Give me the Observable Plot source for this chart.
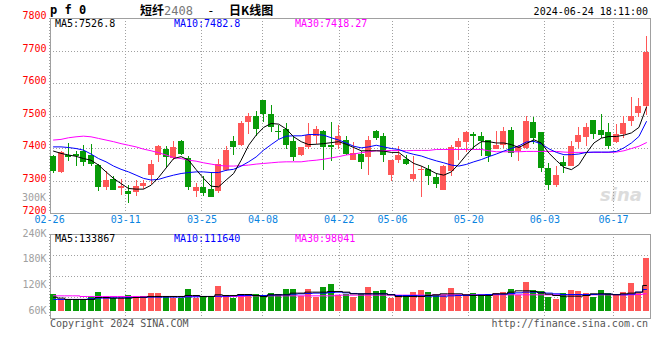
<!DOCTYPE html>
<html><head><meta charset="utf-8">
<script src="https://cdn.jsdelivr.net/npm/d3@7"></script>
<script src="https://cdn.jsdelivr.net/npm/@observablehq/plot@0.6"></script>
<style>
body{margin:0;background:#fff;}
#wrap{position:relative;width:660px;height:360px;overflow:hidden;font-family:"DejaVu Sans Mono","Liberation Mono",monospace;font-size:10px;color:#000;}
#wrap svg{position:absolute;left:0;top:0;}
.t{position:absolute;white-space:nowrap;line-height:10px;}
</style></head><body><div id="wrap"></div>
<script>
const dates = ["02-26","02-27","02-28","02-29","03-01","03-04","03-05","03-06","03-07","03-08","03-11","03-12","03-13","03-14","03-15","03-18","03-19","03-20","03-21","03-22","03-25","03-26","03-27","03-28","03-29","04-01","04-02","04-03","04-08","04-09","04-10","04-11","04-12","04-15","04-16","04-17","04-18","04-19","04-22","04-23","04-24","04-25","04-26","04-29","04-30","05-06","05-07","05-08","05-09","05-10","05-13","05-14","05-15","05-16","05-17","05-20","05-21","05-22","05-23","05-24","05-27","05-28","05-29","05-30","05-31","06-03","06-04","06-05","06-06","06-07","06-11","06-12","06-13","06-14","06-17","06-18","06-19","06-20","06-21","06-24"];
const open = [7374,7325,7380,7383,7392,7380,7348,7279,7305,7276,7269,7264,7282,7318,7377,7398,7369,7423,7369,7267,7280,7275,7267,7333,7421,7408,7479,7500,7549,7506,7453,7457,7421,7377,7403,7436,7453,7410,7408,7426,7364,7383,7371,7451,7438,7318,7364,7367,7306,7332,7336,7311,7270,7328,7403,7417,7444,7438,7426,7397,7408,7456,7390,7400,7480,7450,7337,7287,7357,7345,7417,7434,7485,7456,7448,7417,7443,7482,7507,7528];
const high = [7380,7390,7415,7392,7410,7413,7352,7330,7313,7305,7287,7301,7303,7362,7410,7407,7421,7424,7374,7292,7315,7326,7367,7405,7438,7482,7508,7513,7549,7533,7472,7477,7436,7403,7477,7467,7454,7479,7470,7438,7417,7392,7436,7454,7446,7364,7407,7380,7374,7344,7349,7323,7349,7410,7431,7451,7449,7449,7426,7451,7465,7465,7410,7497,7494,7450,7355,7345,7376,7422,7466,7478,7485,7505,7478,7473,7499,7558,7555,7745];
const low = [7323,7323,7359,7346,7344,7346,7267,7272,7270,7256,7231,7251,7274,7290,7356,7342,7364,7380,7270,7248,7253,7248,7262,7328,7377,7405,7444,7436,7479,7449,7429,7398,7359,7376,7397,7413,7333,7359,7397,7380,7364,7336,7318,7426,7356,7297,7354,7347,7300,7248,7287,7277,7270,7315,7364,7387,7398,7374,7356,7397,7400,7371,7359,7397,7412,7325,7270,7281,7323,7345,7400,7405,7427,7432,7398,7415,7432,7468,7494,7502];
const close = [7328,7387,7371,7376,7357,7352,7279,7303,7272,7284,7260,7284,7293,7352,7407,7372,7403,7382,7279,7279,7262,7248,7352,7395,7403,7477,7497,7460,7505,7464,7448,7408,7371,7402,7439,7457,7403,7402,7438,7383,7385,7356,7426,7431,7380,7362,7380,7352,7320,7335,7313,7289,7346,7403,7421,7448,7436,7421,7376,7410,7453,7385,7407,7484,7432,7340,7287,7316,7345,7405,7440,7466,7443,7441,7407,7443,7478,7499,7528,7695];
const ma5 = [7392,7385,7380,7376,7369,7364,7349,7328,7308,7292,7277,7275,7275,7287,7311,7340,7369,7375,7364,7335,7308,7284,7282,7303,7323,7364,7410,7441,7465,7477,7475,7460,7436,7421,7412,7413,7415,7418,7421,7413,7403,7393,7393,7393,7392,7388,7388,7370,7354,7346,7335,7323,7318,7328,7352,7380,7405,7421,7421,7417,7417,7412,7403,7415,7427,7417,7386,7363,7342,7335,7350,7386,7417,7432,7437,7437,7441,7448,7465,7527];
const ma10 = [7405,7405,7403,7400,7395,7383,7369,7359,7346,7336,7328,7318,7308,7303,7305,7312,7318,7323,7326,7328,7328,7326,7326,7333,7336,7346,7359,7374,7395,7412,7428,7438,7439,7439,7443,7443,7441,7433,7426,7417,7407,7402,7405,7410,7405,7400,7397,7388,7382,7377,7369,7362,7356,7349,7346,7351,7359,7366,7375,7383,7392,7400,7408,7420,7422,7414,7399,7388,7381,7381,7383,7388,7389,7389,7389,7391,7402,7417,7437,7483];
const ma30 = [7426,7428,7433,7436,7438,7436,7431,7426,7421,7415,7410,7405,7398,7393,7387,7380,7372,7369,7364,7361,7356,7352,7348,7346,7346,7347,7349,7352,7354,7356,7358,7359,7359,7359,7362,7364,7367,7371,7375,7380,7383,7387,7390,7393,7393,7394,7394,7393,7394,7394,7394,7397,7397,7397,7397,7397,7397,7397,7393,7390,7390,7390,7390,7391,7391,7391,7391,7391,7389,7388,7388,7388,7388,7388,7388,7389,7393,7400,7407,7418];
const volume = [99000,88100,88100,88100,88100,93500,104400,91200,91200,91200,97400,95100,91200,102100,102100,95100,91200,91200,111400,91200,95100,95100,118500,95100,91200,97400,97400,99700,95100,102100,100500,111400,111400,95100,111400,93500,116100,123100,97400,99700,93500,99700,116100,106800,109100,91200,95800,93500,104400,109100,104400,97400,97400,113800,97400,97400,102100,95800,95800,101300,104400,111400,97400,127800,109100,106800,93500,88100,101300,109100,106800,101300,93500,109100,101300,97400,104400,125500,101300,184700];
const volMa5 = [93500,91200,88100,88100,88100,88100,92700,92700,91200,91200,91200,92700,93500,95100,95100,95100,95100,95100,97400,97400,95100,95100,99000,97400,97400,99700,99700,97400,95100,99000,99000,99000,102900,102900,105200,105200,105200,106800,106800,105200,101300,101300,101300,101300,101300,99000,95100,95100,95100,95100,97400,99000,101300,101300,101300,99000,97400,97400,97400,101300,101300,105200,108300,108300,106800,103600,100500,97400,95800,95800,95800,97400,101300,101300,100500,99000,101300,102900,105200,120800];
const volMa10 = [88100,88100,88100,88100,88100,89600,91200,91200,92000,92000,92700,92700,92700,93500,93500,93500,93500,93500,94300,94300,95100,95100,95800,95800,96600,97400,97400,97400,97400,98200,99000,99000,100500,101300,102100,102900,102900,104400,105200,103600,102100,101300,101300,101300,101300,99700,97400,97400,97400,96600,95800,95800,95800,96600,97400,97400,98200,99000,99700,100500,100500,102100,103600,105200,105200,104400,102900,101300,99700,99700,99700,99700,99700,100500,100500,99700,99000,100500,105200,111400];
const volMa30 = [96600,96600,96600,96600,95100,95100,95100,95100,95100,95100,95100,95100,95100,95100,95100,95100,95100,95100,95100,95100,95100,95100,95100,95100,95100,95100,96600,96600,96600,96600,96600,96600,96600,96600,96600,96600,96600,96600,98200,98200,98200,98200,98200,98200,98200,98200,98200,98200,98200,98200,98200,99000,99000,99000,99000,99000,99000,99000,99000,99000,99000,99000,99000,99000,99000,99000,99000,99000,99000,99000,99000,99000,99000,99000,99000,99000,99000,99000,99700,101300];
const tickDates = ["02-26","03-11","03-25","04-08","04-22","05-06","05-20","06-03","06-17"];
const priceTicks = [7200,7300,7400,7500,7600,7700,7800];
const volTicks = [60000,120000,180000,240000];
const volTickLabels = ["60K","120K","180K","240K"];
const maLabels = ["MA5:7526.8","MA10:7482.8","MA30:7418.27"];
const volMaLabels = ["MA5:133867","MA10:111640","MA30:98041"];

const RED = "#ff5757", GREEN = "#089b08";
const FONT = "DejaVu Sans Mono, Liberation Mono, monospace";
const rows = dates.map((d, i) => ({i, d, o: open[i], h: high[i], l: low[i], c: close[i],
  m5: ma5[i], m10: ma10[i], m30: ma30[i], v: volume[i], v5: volMa5[i], v10: volMa10[i], v30: volMa30[i],
  col: close[i] >= open[i] ? RED : GREEN}));
const ticks = tickDates.map(d => ({d, i: dates.indexOf(d)}));

const W = 660, H = 360;
const base = {width: W, height: H, marginLeft: 50, marginRight: 10,
  style: {background: "transparent", fontFamily: FONT, fontSize: "10px", overflow: "visible"},
  color: {type: "identity"}};
const gridX = {domain: [0.118, 78.86], axis: null};
const candleX = {domain: [-0.4, 79.54], axis: null};
const dotted = {stroke: "#a0a0a0", strokeDasharray: "1,2", shapeRendering: "crispEdges"};

const mainGrid = Plot.plot({...base, marginTop: 18, marginBottom: H - 213,
  x: gridX, y: {domain: [7200, 7800], axis: null},
  marks: [
    Plot.ruleY(priceTicks.slice(1, -1), dotted),
    Plot.ruleX(ticks, {x: "i", ...dotted}),
    Plot.frame({stroke: "#a0a0a0", shapeRendering: "crispEdges"}),
    Plot.text(priceTicks, {y: d => d, text: d => String(d), frameAnchor: "left", dx: -4, dy: -2.5,
      textAnchor: "end", fill: "#ff0000", fontSize: 10, fontFamily: FONT}),
    Plot.text(ticks, {x: "i", text: "d", frameAnchor: "bottom", dy: 9.5, fill: "#0a84e0",
      fontSize: 10, fontFamily: FONT})
  ]});

const mainData = Plot.plot({...base, marginTop: 18, marginBottom: H - 213,
  x: candleX, y: {domain: [7200, 7800], axis: null},
  marks: [
    Plot.ruleX(rows, {x: "i", y1: "l", y2: "h", stroke: "col", shapeRendering: "crispEdges"}),
    Plot.rect(rows, {x1: d => d.i - 0.4, x2: d => d.i + 0.4, y1: "o", y2: "c", fill: "col", shapeRendering: "crispEdges"}),
    Plot.line(rows, {x: "i", y: "m30", stroke: "#ff00ff", strokeWidth: 1}),
    Plot.line(rows, {x: "i", y: "m10", stroke: "#0000ff", strokeWidth: 1}),
    Plot.line(rows, {x: "i", y: "m5", stroke: "#000000", strokeWidth: 1})
  ]});

const volGrid = Plot.plot({...base, marginTop: 234, marginBottom: H - 318,
  x: gridX, y: {domain: [0, 4], axis: null},
  marks: [
    Plot.gridY({ticks: [1, 2, 3], ...dotted, strokeOpacity: 1}),
    Plot.ruleX(ticks, {x: "i", ...dotted}),
    Plot.frame({stroke: "#a0a0a0", shapeRendering: "crispEdges"})
  ]});

const volData = Plot.plot({...base, marginTop: 234, marginBottom: H - 318,
  x: candleX, y: {domain: [43600, 240000], axis: null},
  marks: [
    Plot.rect(rows, {x1: d => d.i - 0.4, x2: d => d.i + 0.4, y1: volTicks[0], y2: "v", fill: "col", shapeRendering: "crispEdges"}),
    Plot.line(rows, {x: "i", y: "v30", stroke: "#ff00ff", strokeWidth: 1, curve: "step"}),
    Plot.line(rows, {x: "i", y: "v10", stroke: "#0000ff", strokeWidth: 1, curve: "step"}),
    Plot.line(rows, {x: "i", y: "v5", stroke: "#000000", strokeWidth: 1, curve: "step"}),
    Plot.text(volTicks, {y: d => d, text: (d, k) => volTickLabels[k], frameAnchor: "left", dx: -4, dy: -1,
      textAnchor: "end", fill: "#a0a0a0", fontSize: 10, fontFamily: FONT})
  ]});

const wrap = document.getElementById("wrap");
function txt(s, css) { const e = document.createElement("div"); e.className = "t"; e.style.cssText = css; e.innerHTML = s; wrap.appendChild(e); return e; }
txt("sina", "left:600px;top:186px;font:italic bold 18px 'DejaVu Sans',sans-serif;color:#dcdcdc;line-height:18px;");
wrap.appendChild(mainGrid);
wrap.appendChild(volGrid);
wrap.appendChild(mainData);
wrap.appendChild(volData);
txt("p f 0", "left:50px;top:4px;font-weight:bold;font-size:12px;line-height:12px;");
txt("<b>短纤</b><span style='color:#777;font-family:DejaVu Sans Mono,monospace'>2408</span><span style='font-family:DejaVu Sans Mono,monospace'>&nbsp;&nbsp;-&nbsp;&nbsp;</span><b>日K线图</b>", "left:140px;top:4px;font-size:12px;line-height:12px;font-family:'Noto Sans CJK SC','DejaVu Sans Mono',monospace;");
txt("2024-06-24 18:11:00", "right:12px;top:7px;");
txt(maLabels[0], "left:55px;top:19px;color:#000;");
txt(maLabels[1], "left:174px;top:19px;color:#0000ff;");
txt(maLabels[2], "left:295px;top:19px;color:#ff00ff;");
txt(volMaLabels[0], "left:55px;top:234px;color:#000;");
txt(volMaLabels[1], "left:174px;top:234px;color:#0000ff;");
txt(volMaLabels[2], "left:295px;top:234px;color:#ff00ff;");
txt("300K", "right:614px;top:193px;color:#a0a0a0;");
txt("Copyright 2024 SINA.COM", "left:50px;top:319px;color:#555;");
txt("http://finance.sina.com.cn", "right:12px;top:319px;color:#555;");
</script></body></html>
